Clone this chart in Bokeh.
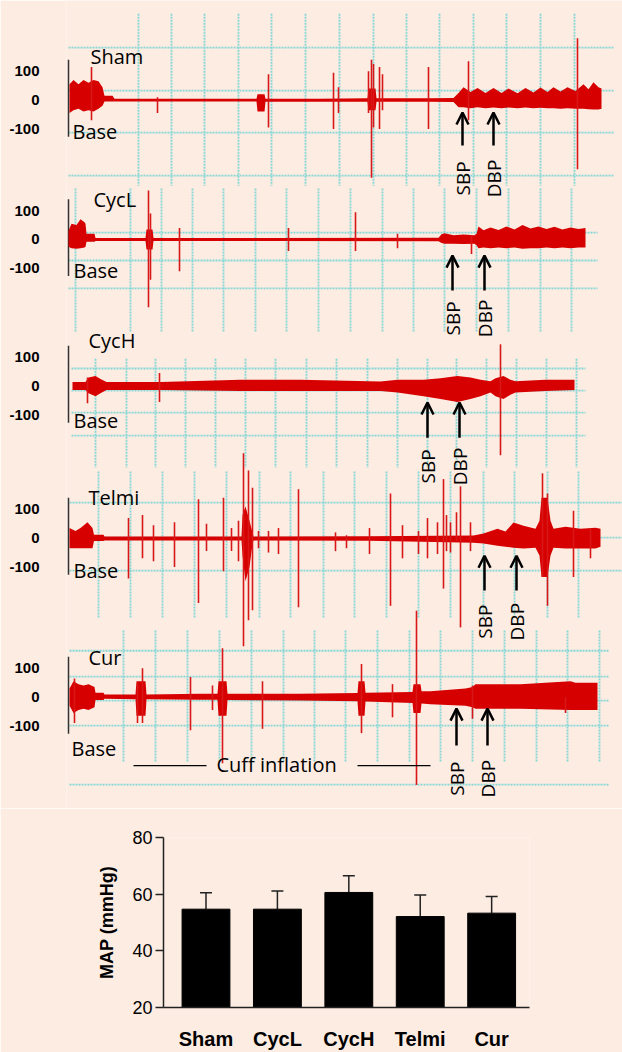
import numpy as np
from bokeh.plotting import figure
from bokeh.models import (Range1d, FixedTicker, Arrow, OpenHead, Whisker, TeeHead,
                          ColumnDataSource)
from bokeh.core.properties import value
from bokeh.embed import file_html
from bokeh.resources import INLINE

# ---------------- data ----------------
groups = ["Sham", "CycL", "CycH", "Telmi", "Cur"]
map_mean = [54.7, 54.7, 60.6, 52.1, 53.3]
map_upper = [60.5, 61.1, 66.5, 59.7, 59.2]

tick_values = [100, 0, -100]
tick_labels = ["100", "0", "-100"]

# trace envelopes: time (s), upper and lower amplitude
sham_t = [0.1, 0.5, 1.0, 1.5, 2.0, 2.5, 3.0, 3.4, 3.6, 4.4, 4.6, 12.0, 18.8, 18.9, 19.6, 19.7, 25.0,
          29.9, 30.0, 30.7, 30.8, 36.0, 38.5, 39.0, 39.5, 40.2, 40.9, 41.7, 42.5, 43.3, 44.0, 44.9,
          45.7, 46.5, 47.2, 47.9, 48.5, 49.2, 49.9, 50.7, 51.5, 52.0, 52.5, 53.0, 53.3]
sham_hi = [55, 70, 55, 70, 60, 70, 65, 45, 15, 15, 5, 5, 5, 20, 20, 5, 5,
           6, 40, 40, 6, 6, 7, 25, 45, 28, 42, 25, 42, 25, 40, 24,
           42, 26, 44, 28, 45, 30, 45, 32, 55, 38, 62, 45, 40]
sham_lo = [-45, -35, -30, -40, -35, -40, -30, -20, -5, -5, -5, -5, -5, -40, -40, -6, -6,
           -6, -35, -35, -6, -6, -7, -25, -25, -28, -25, -28, -26, -28, -26, -28,
           -26, -28, -27, -28, -28, -30, -28, -30, -30, -32, -33, -33, -30]
sham_spk_t = [2.3, 8.9, 20.0, 26.5, 27.0, 30.0, 30.3, 30.5, 31.1, 31.4, 36.0, 40.0, 50.9]
sham_spk_hi = [115, 10, 90, 95, 45, 100, 140, 125, 115, 90, 115, 135, 215]
sham_spk_lo = [-70, -45, -95, -100, -45, -45, -270, -95, -100, -35, -100, -70, -240]

cycl_t = [0.0, 0.3, 0.8, 1.2, 1.6, 1.7, 1.8, 2.6, 2.7, 7.7, 7.8, 8.4, 8.5, 20.0, 37.0, 37.3, 37.6,
          38.5, 39.5, 40.6, 40.8, 41.0, 41.5, 42.2, 43.0, 43.8, 44.6, 45.4, 46.2, 47.0, 47.8,
          48.6, 49.4, 50.2, 51.0, 51.7]
cycl_hi = [30, 55, 50, 70, 60, 55, 20, 20, 5, 5, 35, 35, 5, 5, 6, 18, 22,
           15, 17, 15, 20, 45, 32, 42, 33, 45, 35, 50, 38, 45, 36,
           44, 35, 42, 36, 40]
cycl_lo = [-25, -30, -32, -30, -28, -25, -8, -8, -5, -5, -35, -35, -5, -5, -6, -12, -15,
           -15, -16, -15, -20, -30, -28, -30, -28, -30, -28, -32, -30, -30, -28,
           -30, -28, -30, -28, -28]
cycl_spk_t = [8.0, 8.2, 11.1, 22.0, 28.7, 32.9, 40.3]
cycl_spk_hi = [170, 90, 40, 40, 95, 20, 15]
cycl_spk_lo = [-235, -140, -110, -40, -40, -30, -50]

cych_t = [0.4, 1.7, 2.0, 2.7, 3.2, 3.8, 9.2, 17.2, 23.2, 31.2, 32.9, 35.5, 37.2, 38.9, 40.2,
          41.2, 42.2, 42.7, 43.5, 44.2, 44.7, 47.7, 50.6]
cych_hi = [14, 14, 30, 35, 25, 14, 14, 22, 22, 16, 22, 22, 27, 35, 30,
           22, 17, 27, 35, 22, 17, 22, 22]
cych_lo = [-14, -14, -25, -35, -25, -14, -14, -17, -17, -17, -22, -35, -45, -55, -45,
           -35, -22, -35, -45, -30, -22, -17, -14]
cych_spk_t = [1.9, 9.1, 43.2]
cych_spk_hi = [30, 45, 145]
cych_spk_lo = [-60, -55, -240]

telmi_t = [0.1, 0.7, 1.2, 1.9, 2.4, 2.55, 3.5, 3.6, 17.3, 17.4, 17.7, 18.1, 18.4, 18.5, 30.0,
           40.5, 41.5, 42.9, 43.7, 44.5, 45.5, 46.7, 47.1, 47.3, 47.9, 48.2, 48.5, 49.7, 51.2,
           52.7, 53.2]
telmi_hi = [35, 25, 35, 55, 35, 12, 12, 6, 6, 80, 110, 60, 20, 6, 7,
            9, 16, 33, 23, 54, 43, 33, 60, 140, 140, 60, 33, 40, 33,
            36, 33]
telmi_lo = [-35, -35, -35, -35, -35, -10, -10, -8, -8, -60, -150, -100, -20, -8, -9,
            -16, -19, -26, -30, -33, -36, -33, -60, -135, -135, -60, -33, -36, -36,
            -36, -30]
telmi_spk_t = [6.0, 7.4, 8.5, 10.6, 13.0, 13.8, 15.5, 16.3, 17.0, 17.5, 18.0, 18.4, 19.0, 20.0,
               21.0, 23.0, 26.7, 27.8, 30.1, 32.2, 33.4, 35.0, 35.9, 36.9, 37.5, 37.8, 38.2,
               38.8, 39.2, 40.2, 47.4, 47.9, 50.5, 52.2]
telmi_spk_hi = [70, 80, 45, 55, 135, 50, 140, 35, 60, 295, 235, 175, 25, 25,
                35, 170, 20, 10, 35, 155, 45, 25, 70, 55, 205, 80, 55,
                90, 180, 55, 225, 155, 95, 35]
telmi_spk_lo = [-140, -70, -80, -100, -225, -45, -115, -45, -80, -375, -285, -250, -35, -50,
                -55, -240, -45, -35, -55, -235, -70, -55, -70, -55, -175, -45, -50,
                -10, -310, -45, -135, -235, -135, -70]

cur_t = [0.1, 0.5, 1.0, 1.5, 2.0, 2.6, 2.7, 3.5, 3.6, 6.7, 6.8, 7.7, 7.8, 13.2, 14.9, 15.0, 15.8,
         15.9, 23.2, 28.9, 29.0, 29.6, 29.7, 34.4, 34.5, 35.2, 35.3, 36.2, 39.7, 40.4, 40.7,
         45.2, 50.2, 50.7, 52.9]
cur_hi = [30, 55, 45, 40, 45, 35, 15, 15, 9, 9, 55, 55, 9, 12, 12, 55, 55,
          12, 12, 14, 55, 55, 15, 18, 45, 45, 20, 20, 30, 35, 45,
          45, 55, 50, 50]
cur_lo = [-30, -55, -45, -40, -45, -35, -10, -10, -6, -7, -65, -65, -7, -9, -9, -65, -65,
          -10, -12, -14, -65, -65, -15, -20, -55, -55, -22, -25, -30, -35, -40,
          -40, -45, -45, -45]
cur_spk_t = [0.6, 6.9, 7.4, 12.2, 14.4, 15.4, 19.4, 29.3, 32.4, 34.8, 40.4, 49.7]
cur_spk_hi = [65, 45, 100, 70, 40, 170, 55, 115, 45, 300, 40, 0]
cur_spk_lo = [-90, -90, -90, -115, -45, -230, -110, -125, -70, -305, -75, -55]

sbp_t = [39.4, 38.4, 35.9, 41.6, 38.8]
dbp_t = [42.5, 41.6, 39.1, 44.8, 41.9]

# ---------------- layout / style ----------------
BG = "#FCECE2"
RED = "#D70000"
SPK = "#D81818"
GRIDC = "#84D8D6"
FONT = "Open Sans"

offsets = [-318, -802, -1311, -1839, -2391]          # vertical position of each trace
arrow_head = [-43, -56, -57, -61, -40]
arrow_tail = [-158, -177, -179, -182, -168]
label_y = [-272, -274, -279, -290, -283]
name_pos = [(2.2, 151), (2.5, 139), (2.0, 158), (2.0, 140), (2.0, 137)]
base_pos = [(0.4, -109), (0.5, -108), (0.5, -120), (0.5, -113), (0.3, -179)]

grid_h = [[182, 33, -113, -262], [24, -73, -170], [61, -16, -92, -172],
          [123, 2, -113], [161, 71, -12, -99, -304]]
grid_h_span = [(0.0, 54.6), (0.0, 52.9), (0.3, 51.7), (0.1, 55.4), (0.1, 54.1)]
grid_v = [[7.0, 10.3, 13.6, 17.0, 20.3, 23.7, 27.1, 30.5, 33.8, 37.1, 40.5, 43.8, 47.2, 50.6],
          [0.7, 6.2, 9.3, 12.4, 15.5, 18.7, 21.8, 25.0, 28.2, 31.4, 34.5, 37.6, 40.8, 44.0, 47.2, 50.3],
          [2.7, 5.8, 8.7, 11.7, 14.7, 17.7, 20.7, 23.8, 26.8, 29.9, 32.9, 35.9, 38.8, 41.8, 44.8, 47.8, 50.8],
          [3.0, 6.2, 9.4, 12.6, 15.8, 19.1, 22.2, 25.5, 28.6, 31.8, 35.0, 38.2, 41.5, 44.6, 47.9, 51.0],
          [5.5, 8.7, 11.9, 15.1, 18.3, 21.5, 24.6, 27.7, 30.9, 34.1, 37.2, 40.4, 43.6, 46.8, 49.9, 53.1]]
grid_v_span = [(300, -297), (177, -323), (95, -283), (231, -276), (231, -227)]

envs = [(sham_t, sham_hi, sham_lo), (cycl_t, cycl_hi, cycl_lo), (cych_t, cych_hi, cych_lo),
        (telmi_t, telmi_hi, telmi_lo), (cur_t, cur_hi, cur_lo)]
spikes = [(sham_spk_t, sham_spk_hi, sham_spk_lo), (cycl_spk_t, cycl_spk_hi, cycl_spk_lo),
          (cych_spk_t, cych_spk_hi, cych_spk_lo), (telmi_spk_t, telmi_spk_hi, telmi_spk_lo),
          (cur_spk_t, cur_spk_hi, cur_spk_lo)]

p = figure(width=622, height=808, x_range=Range1d(-0.2, 55.4), y_range=Range1d(-2777.7, 27.8),
           output_backend="svg", toolbar_location=None, x_axis_location=None,
           min_border_left=66, min_border_right=0, min_border_top=0, min_border_bottom=0,
           background_fill_color=BG, border_fill_color=BG, outline_line_color=None)
p.xgrid.visible = False
p.ygrid.visible = False

ticks = []
overrides = {}
for off in offsets:
    for v, lab in zip(tick_values, tick_labels):
        ticks.append(off + v)
        overrides[off + v] = lab
p.yaxis.ticker = FixedTicker(ticks=ticks)
p.yaxis.major_label_overrides = overrides
p.yaxis.axis_line_color = None
p.yaxis.major_tick_line_color = None
p.yaxis.minor_tick_line_color = None
p.yaxis.major_label_standoff = 21
p.yaxis.major_label_text_font = "Liberation Sans"
p.yaxis.major_label_text_font_style = "bold"
p.yaxis.major_label_text_font_size = "15px"
p.yaxis.major_label_text_color = "black"

for i, off in enumerate(offsets):
    # grid
    t0, t1 = grid_h_span[i]
    lv = np.array(grid_h[i]) + off
    p.segment(x0=[t0] * len(lv), x1=[t1] * len(lv), y0=lv, y1=lv,
              line_color=GRIDC, line_width=1.8, line_dash="2 1")
    a, b = grid_v_span[i]
    gv = grid_v[i]
    p.segment(x0=gv, x1=gv, y0=[off + a] * len(gv), y1=[off + b] * len(gv),
              line_color=GRIDC, line_width=1.8, line_dash="2 1")
    # baseline bar
    p.segment(x0=[0.0], x1=[0.0], y0=[off + 140], y1=[off - 127], line_color="#333333", line_width=1.5)
    # trace
    et, eh, el = envs[i]
    p.varea(x=et, y1=np.array(eh) + off, y2=np.array(el) + off, fill_color=RED)
    st, sh, sl = spikes[i]
    p.segment(x0=st, x1=st, y0=np.array(sh) + off, y1=np.array(sl) + off,
              line_color=SPK, line_width=1.6)
    # labels
    p.text(x=[name_pos[i][0]], y=[off + name_pos[i][1]], text=[groups[i]],
           text_font=value(FONT), text_font_size="20px", text_align="left",
           text_baseline="middle", text_color="black")
    p.text(x=[base_pos[i][0]], y=[off + base_pos[i][1]], text=["Base"],
           text_font=value(FONT), text_font_size="20px", text_align="left",
           text_baseline="middle", text_color="black")
    for tt, lab in ((sbp_t[i], "SBP"), (dbp_t[i], "DBP")):
        p.add_layout(Arrow(end=OpenHead(size=12, line_width=2.5, line_color="black"),
                           x_start=tt, y_start=off + arrow_tail[i], x_end=tt, y_end=off + arrow_head[i],
                           line_width=2.5, line_color="black"))
        p.text(x=[tt], y=[off + label_y[i]], text=[lab], angle=np.pi / 2,
               text_font=value(FONT), text_font_size="19px", text_align="center",
               text_baseline="middle", text_color="black")

# cuff inflation annotation
off5 = offsets[4]
p.text(x=[14.8], y=[off5 - 234], text=["Cuff inflation"], text_font=value(FONT),
       text_font_size="20px", text_align="left", text_baseline="middle", text_color="black")
p.segment(x0=[6.5, 28.9], x1=[13.8, 36.2], y0=[off5 - 238] * 2, y1=[off5 - 238] * 2,
          line_color="black", line_width=1.3)

# ---------------- bar chart ----------------
xpos = list(range(len(groups)))
p2 = figure(width=622, height=244, x_range=Range1d(-0.595, 4.53), y_range=Range1d(20, 80),
            output_backend="svg", toolbar_location=None,
            min_border_left=163, min_border_right=93, min_border_top=29, min_border_bottom=38,
            background_fill_color=BG, border_fill_color=BG, outline_line_color=None)
p2.xgrid.visible = False
p2.ygrid.visible = False
p2.vbar(x=xpos, top=map_mean, bottom=20, width=0.67, fill_color="black", line_color="black")
src = ColumnDataSource(dict(x=xpos, lower=map_mean, upper=map_upper))
p2.add_layout(Whisker(base="x", lower="lower", upper="upper", source=src, dimension="height",
                      line_width=1.5, line_color="#222222", lower_head=None,
                      upper_head=TeeHead(size=12, line_width=1.5, line_color="#222222")))
p2.yaxis.ticker = FixedTicker(ticks=[20, 40, 60, 80])
p2.yaxis.major_tick_out = 8
p2.yaxis.major_tick_in = 0
p2.yaxis.minor_tick_line_color = None
p2.yaxis.major_label_standoff = 3
p2.yaxis.major_label_text_font = "Liberation Sans"
p2.yaxis.major_label_text_font_size = "18px"
p2.yaxis.major_label_text_color = "black"
p2.yaxis.axis_line_width = 1.5
p2.yaxis.axis_line_color = "#222222"
p2.yaxis.major_tick_line_width = 1.5
p2.yaxis.major_tick_line_color = "#222222"
p2.yaxis.axis_label = "MAP (mmHg)"
p2.yaxis.axis_label_text_font = "Liberation Sans"
p2.yaxis.axis_label_text_font_style = "bold"
p2.yaxis.axis_label_text_font_size = "18px"
p2.yaxis.axis_label_text_color = "black"
p2.yaxis.axis_label_standoff = 12
p2.xaxis.ticker = FixedTicker(ticks=xpos)
p2.xaxis.major_label_overrides = {i: g for i, g in zip(xpos, groups)}
p2.xaxis.major_tick_line_color = None
p2.xaxis.minor_tick_line_color = None
p2.xaxis.axis_line_width = 1.5
p2.xaxis.axis_line_color = "#222222"
p2.xaxis.major_label_standoff = 14
p2.xaxis.major_label_text_font = "Liberation Sans"
p2.xaxis.major_label_text_font_style = "bold"
p2.xaxis.major_label_text_font_size = "20px"
p2.xaxis.major_label_text_color = "black"

open("out.html", "w").write(file_html([p, p2], INLINE))
